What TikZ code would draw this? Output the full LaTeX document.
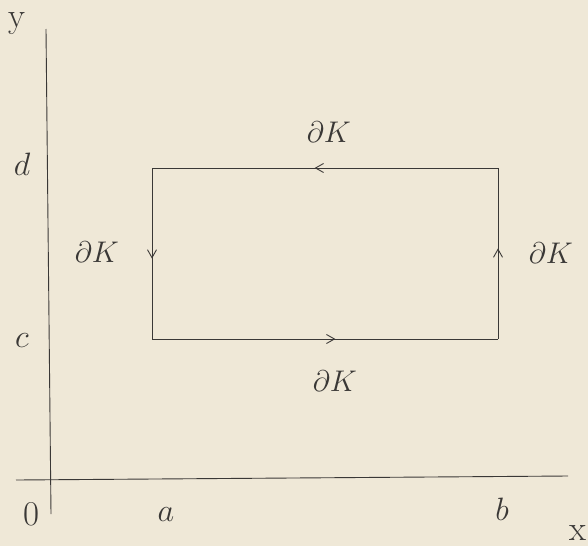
\documentclass[tikz,border=0pt]{standalone}
\usepackage{graphicx}
\usetikzlibrary{arrows.meta,decorations.markings}
\definecolor{bg}{HTML}{EFE8D7}
\definecolor{ink}{HTML}{3A3836}
\newcommand{\mylab}[1]{\scalebox{1.2}{#1}}
\newcommand{\mymid}[1]{\scalebox{1.3}{#1}}
\newcommand{\mybig}[1]{\scalebox{1.4}{#1}}
\begin{document}
\begin{tikzpicture}[x=1pt,y=-1pt,
  axis/.style={draw=ink,line width=0.9pt},
  edge/.style={draw=ink,line width=0.9pt,postaction={decorate},
    decoration={markings,mark=at position 0.53 with {\arrow{Straight Barb[length=8pt,width=9pt,line width=0.9pt]}}}},
  lbl/.style={text=ink,inner sep=0pt,font=\fontsize{24.88}{30}\selectfont}]
\fill[bg] (0,0) rectangle (588,546);
\useasboundingbox (0,0) rectangle (588,546);
% axes
\coordinate (ytop) at (46,29);
\coordinate (ybot) at (51,514);
\coordinate (xl) at (16,480);
\coordinate (xr) at (568,476);
\draw[axis] (ybot) -- (ytop);
\draw[axis] (xl) -- (xr);
% rectangle corners
\coordinate (A) at (152,339);
\coordinate (B) at (498,339);
\coordinate (C) at (498,168);
\coordinate (D) at (152,168);
\draw[edge] (A) -- (B);
\draw[edge] (B) -- (C);
\draw[edge] (C) -- (D);
\draw[edge] (D) -- (A);
% labels
\node[lbl] (ly) at (17,24) {\mybig{y}};
\node[lbl] (lx) at (578,533) {\mybig{x}};
\node[lbl] (l0) at (31,514) {\mybig{$0$}};
\node[lbl] (la) at (166,515) {\mymid{$a$}};
\node[lbl] (lb) at (502,509) {\mymid{$b$}};
\node[lbl] (ld) at (22,164) {\mymid{$d$}};
\node[lbl] (lc) at (22,341) {\mymid{$c$}};
\node[lbl] (kt) at (329,132) {\mylab{$\partial K$}};
\node[lbl] (kl) at (97,252) {\mylab{$\partial K$}};
\node[lbl] (kr) at (551,253) {\mylab{$\partial K$}};
\node[lbl] (kb) at (335,381) {\mylab{$\partial K$}};
\end{tikzpicture}
\end{document}
